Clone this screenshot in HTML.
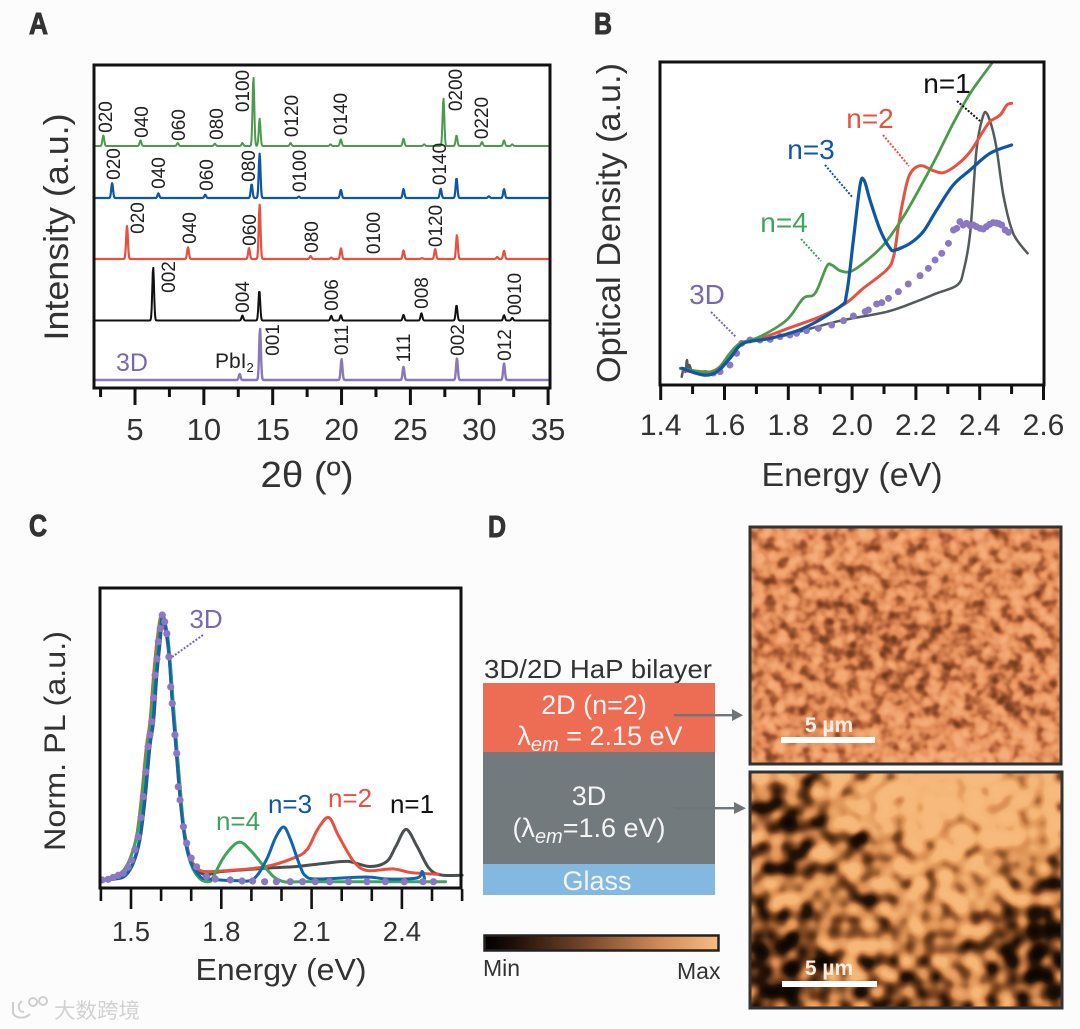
<!DOCTYPE html>
<html>
<head>
<meta charset="utf-8">
<title>Four-panel perovskite characterization figure</title>
<style>
html,body{margin:0;padding:0;background:#fdfdfd;}
svg{display:block;}
text{font-family:"Liberation Sans","Noto Sans CJK SC",sans-serif;}
</style>
</head>
<body>
<svg id="fig" xmlns="http://www.w3.org/2000/svg" width="1080" height="1029" viewBox="0 0 1080 1029">
<defs>
<filter id="noiseTop" filterUnits="userSpaceOnUse" x="751" y="528" width="309" height="235" color-interpolation-filters="sRGB">
<feTurbulence type="fractalNoise" baseFrequency="0.085" numOctaves="2" seed="7" result="n"/>
<feColorMatrix in="n" type="matrix" values="1 0 0 0 0  1 0 0 0 0  1 0 0 0 0  0 0 0 0 1" result="g"/>
<feComposite in="g" in2="SourceGraphic" operator="arithmetic" k1="0" k2="1" k3="1" k4="-0.5"/>
<feGaussianBlur stdDeviation="1"/>
<feComponentTransfer>
<feFuncR type="table" tableValues="0.38 0.40 0.50 0.70 0.88 0.94 0.96 0.96 0.96"/>
<feFuncG type="table" tableValues="0.18 0.20 0.26 0.38 0.54 0.63 0.68 0.68 0.68"/>
<feFuncB type="table" tableValues="0.08 0.10 0.14 0.22 0.34 0.42 0.48 0.48 0.48"/>
<feFuncA type="linear" slope="0" intercept="1"/>
</feComponentTransfer>
</filter>
<filter id="noiseBottom" filterUnits="userSpaceOnUse" x="751" y="773" width="310" height="234" color-interpolation-filters="sRGB">
<feTurbulence type="fractalNoise" baseFrequency="0.065" numOctaves="1" seed="11" result="n"/>
<feColorMatrix in="n" type="matrix" values="1 0 0 0 0  1 0 0 0 0  1 0 0 0 0  0 0 0 0 1" result="g"/>
<feComposite in="g" in2="SourceGraphic" operator="arithmetic" k1="0" k2="1" k3="1" k4="-0.5"/>
<feGaussianBlur stdDeviation="1.2"/>
<feComponentTransfer>
<feFuncR type="table" tableValues="0.04 0.06 0.16 0.50 0.86 0.96 0.97 0.97 0.97"/>
<feFuncG type="table" tableValues="0.02 0.03 0.08 0.28 0.56 0.71 0.73 0.73 0.73"/>
<feFuncB type="table" tableValues="0.00 0.01 0.03 0.13 0.32 0.46 0.49 0.49 0.49"/>
<feFuncA type="linear" slope="0" intercept="1"/>
</feComponentTransfer>
</filter>
<radialGradient id="lightBlob"><stop offset="0" stop-color="#fff" stop-opacity=".5"/><stop offset=".6" stop-color="#fff" stop-opacity=".3"/><stop offset="1" stop-color="#fff" stop-opacity="0"/></radialGradient>
<radialGradient id="darkBlob"><stop offset="0" stop-color="#000" stop-opacity=".5"/><stop offset=".6" stop-color="#000" stop-opacity=".3"/><stop offset="1" stop-color="#000" stop-opacity="0"/></radialGradient>
<linearGradient id="cmap" x1="0" x2="1" y1="0" y2="0"><stop offset="0" stop-color="#000"/><stop offset=".12" stop-color="#1c0f08"/><stop offset=".45" stop-color="#7c4a2c"/><stop offset=".75" stop-color="#d28a58"/><stop offset="1" stop-color="#f7bc80"/></linearGradient>
</defs>

<rect width="1080" height="1029" fill="#fcfcfc"/>

<g fill="#333" stroke="#333" stroke-width="1" font-weight="bold" font-size="31">
<text x="29" y="34" textLength="19" lengthAdjust="spacingAndGlyphs">A</text>
<text x="594" y="34" textLength="18" lengthAdjust="spacingAndGlyphs">B</text>
<text x="29" y="536" textLength="18" lengthAdjust="spacingAndGlyphs">C</text>
<text x="488" y="537" textLength="18" lengthAdjust="spacingAndGlyphs">D</text>
</g>

<!-- PANEL A -->
<g id="panelA">
<rect x="94" y="65" width="456" height="323" fill="#fff"/>
<g id="aMarks"></g>
<rect x="94" y="65" width="456" height="323" fill="none" stroke="#111" stroke-width="3"/>
<g id="aTicks"></g>
<text transform="translate(68,227) rotate(-90)" text-anchor="middle" font-size="34" fill="#333" textLength="227" lengthAdjust="spacingAndGlyphs">Intensity (a.u.)</text>
<text x="307" y="487" text-anchor="middle" font-size="36" fill="#333" textLength="93" lengthAdjust="spacingAndGlyphs">2θ (º)</text>
<g font-size="19" fill="#222" text-anchor="middle">
<text transform="translate(112,117) rotate(-90)">020</text>
<text transform="translate(148,122) rotate(-90)">040</text>
<text transform="translate(185,125) rotate(-90)">060</text>
<text transform="translate(223,124) rotate(-90)">080</text>
<text transform="translate(249,91) rotate(-90)">0100</text>
<text transform="translate(298,116) rotate(-90)">0120</text>
<text transform="translate(347,114) rotate(-90)">0140</text>
<text transform="translate(462,90) rotate(-90)">0200</text>
<text transform="translate(488,118) rotate(-90)">0220</text>
</g>
<g font-size="19" fill="#222" text-anchor="middle">
<text transform="translate(120,164) rotate(-90)">020</text>
<text transform="translate(165,173) rotate(-90)">040</text>
<text transform="translate(213,175) rotate(-90)">060</text>
<text transform="translate(255,166) rotate(-90)">080</text>
<text transform="translate(306,171) rotate(-90)">0100</text>
<text transform="translate(446,164) rotate(-90)">0140</text>
</g>
<g font-size="19" fill="#222" text-anchor="middle">
<text transform="translate(144,218) rotate(-90)">020</text>
<text transform="translate(196,228) rotate(-90)">040</text>
<text transform="translate(256,230) rotate(-90)">060</text>
<text transform="translate(318,237) rotate(-90)">080</text>
<text transform="translate(380,233) rotate(-90)">0100</text>
<text transform="translate(442,226) rotate(-90)">0120</text>
</g>
<g font-size="19" fill="#222" text-anchor="middle">
<text transform="translate(175,277) rotate(-90)">002</text>
<text transform="translate(249,297) rotate(-90)">004</text>
<text transform="translate(338,295) rotate(-90)">006</text>
<text transform="translate(428,293) rotate(-90)">008</text>
<text transform="translate(521,294) rotate(-90)">0010</text>
</g>
<g font-size="19" fill="#222" text-anchor="middle">
<text transform="translate(279,340) rotate(-90)">001</text>
<text transform="translate(348,340) rotate(-90)">011</text>
<text transform="translate(410,348) rotate(-90)">111</text>
<text transform="translate(464,340) rotate(-90)">002</text>
<text transform="translate(511,345) rotate(-90)">012</text>
</g>
<text x="215" y="368" font-size="21" fill="#222">PbI<tspan font-size="13" dy="4">2</tspan></text>
<text x="116" y="371" font-size="25" fill="#7a68ad">3D</text>
</g>

<!-- PANEL B -->
<g id="panelB">
<rect x="660" y="62" width="384" height="323" fill="#fff"/>
<g id="bMarks"></g>
<rect x="660" y="62" width="384" height="323" fill="none" stroke="#111" stroke-width="3"/>
<g id="bTicks"></g>
<text transform="translate(620,223) rotate(-90)" text-anchor="middle" font-size="33" fill="#333" textLength="320" lengthAdjust="spacingAndGlyphs">Optical Density (a.u.)</text>
<text x="852" y="486" text-anchor="middle" font-size="33" fill="#333" textLength="181" lengthAdjust="spacingAndGlyphs">Energy (eV)</text>
<g font-size="28" text-anchor="middle">
<text x="947" y="93" fill="#111">n=1</text>
<text x="870" y="128" fill="#e8503f">n=2</text>
<text x="811" y="159" fill="#0f56a5">n=3</text>
<text x="784" y="232" fill="#3fa55a">n=4</text>
<text x="707" y="304" fill="#7a68ad">3D</text>
</g>
<g fill="none" stroke-width="2" stroke-dasharray="2 1.6">
<line x1="957" y1="101" x2="980" y2="121" stroke="#111"/>
<line x1="883" y1="135" x2="909" y2="166" stroke="#e8503f"/>
<line x1="825" y1="165" x2="853" y2="198" stroke="#0f56a5"/>
<line x1="801" y1="239" x2="821" y2="261" stroke="#3fa55a"/>
<line x1="711" y1="312" x2="736" y2="337" stroke="#7a68ad"/>
</g>
</g>

<!-- PANEL C -->
<g id="panelC">
<rect x="100" y="588" width="361" height="300" fill="#fff"/>
<g id="cMarks"></g>
<rect x="100" y="588" width="361" height="300" fill="none" stroke="#111" stroke-width="3"/>
<g id="cTicks"></g>
<text transform="translate(65,741) rotate(-90)" text-anchor="middle" font-size="30" fill="#333" textLength="220" lengthAdjust="spacingAndGlyphs">Norm. PL (a.u.)</text>
<text x="281" y="980" text-anchor="middle" font-size="31" fill="#333" textLength="171" lengthAdjust="spacingAndGlyphs">Energy (eV)</text>
<g font-size="26" text-anchor="middle">
<text x="238" y="830" fill="#3fa55a">n=4</text>
<text x="290" y="813" fill="#0f56a5">n=3</text>
<text x="350" y="807" fill="#e8503f">n=2</text>
<text x="412" y="813" fill="#111">n=1</text>
<text x="206" y="628" fill="#7a68ad">3D</text>
</g>
<line x1="203" y1="635" x2="172" y2="657" stroke="#7a68ad" stroke-width="2" stroke-dasharray="2 1.6"/>
</g>

<!-- PANEL D -->
<g>
<text x="598" y="678" text-anchor="middle" font-size="26" fill="#333" textLength="228" lengthAdjust="spacingAndGlyphs">3D/2D HaP bilayer</text>
<rect x="483" y="683" width="232" height="69" fill="#ec6c54"/>
<rect x="483" y="752" width="232" height="112" fill="#737a7d"/>
<rect x="483" y="864" width="232" height="31" fill="#83b8e0"/>
<g fill="#f4f4f4" font-size="27" text-anchor="middle">
<text x="594" y="714">2D (n=2)</text>
<text x="600" y="745">λ<tspan font-style="italic" font-size="20" dy="6">em</tspan><tspan dy="-6"> = 2.15 eV</tspan></text>
<text x="589" y="805">3D</text>
<text x="589" y="837">(λ<tspan font-style="italic" font-size="20" dy="6">em</tspan><tspan dy="-6">=1.6 eV)</tspan></text>
<text x="597" y="890">Glass</text>
</g>
<g fill="#6f7578" stroke="none">
<rect x="674" y="714" width="60" height="2.4"/>
<polygon points="732,709 743,715.2 732,721"/>
<rect x="674" y="807" width="62" height="2.4"/>
<polygon points="734,802 746,808.2 734,814"/>
</g>

<g>
<g filter="url(#noiseTop)">
<rect x="751" y="528" width="309" height="235" fill="#848484"/>
<ellipse cx="880" cy="640" rx="130" ry="70" fill="url(#darkBlob)" opacity=".35"/>
<ellipse cx="1005" cy="690" rx="45" ry="35" fill="url(#darkBlob)" opacity=".35"/>
<ellipse cx="990" cy="765" rx="110" ry="45" fill="url(#lightBlob)" opacity=".45"/>
<ellipse cx="1013" cy="701" rx="9" ry="11" fill="url(#darkBlob)"/>
</g>
<rect x="750" y="527" width="311" height="237" fill="none" stroke="#333" stroke-width="3"/>
<rect x="781" y="737" width="94" height="6" fill="#fff"/>
<text x="829" y="732" text-anchor="middle" font-size="21" font-weight="bold" fill="#fbeee2">5 µm</text>
</g>

<g>
<g filter="url(#noiseBottom)">
<rect x="751" y="773" width="310" height="234" fill="#767676"/>
<ellipse cx="960" cy="800" rx="150" ry="75" fill="url(#lightBlob)"/>
<ellipse cx="950" cy="890" rx="80" ry="45" fill="url(#lightBlob)" opacity=".5"/>
<ellipse cx="780" cy="965" rx="60" ry="60" fill="url(#darkBlob)"/>
<ellipse cx="1040" cy="950" rx="60" ry="65" fill="url(#darkBlob)"/>
<ellipse cx="900" cy="995" rx="70" ry="25" fill="url(#darkBlob)" opacity=".6"/>
<ellipse cx="785" cy="835" rx="35" ry="50" fill="url(#darkBlob)" opacity=".7"/>
<ellipse cx="865" cy="842" rx="13" ry="17" fill="url(#darkBlob)"/>
</g>
<rect x="750" y="772" width="312" height="236" fill="none" stroke="#333" stroke-width="3"/>
<rect x="782" y="981" width="95" height="6" fill="#fff"/>
<text x="829" y="975" text-anchor="middle" font-size="21" font-weight="bold" fill="#fbeee2">5 µm</text>
</g>

<rect x="484.5" y="935.5" width="234" height="15" fill="url(#cmap)" stroke="#222" stroke-width="2.5"/>
<text x="483" y="976" font-size="23" fill="#333">Min</text>
<text x="677" y="979" font-size="23" fill="#333">Max</text>
</g>

<g fill="none" stroke="#cfcfcf" stroke-width="2">
<path d="M13 1002 V1012 C13 1018 24 1020 30 1014 M22 1001 C17 1005 18 1012 24 1012"/>
<circle cx="33" cy="1002" r="4"/>
<circle cx="43" cy="1001" r="4"/>
<text x="54" y="1018" font-size="21" fill="#d2d2d2" stroke="none" textLength="86" lengthAdjust="spacingAndGlyphs">大数跨境</text>
</g>
</svg>

<script>
// ---------- Panel A data: peak positions (2 theta, degrees) and intensities (a.u.) ----------
const aTickValues = [2.5,5,7.5,10,12.5,15,17.5,20,22.5,25,27.5,30,32.5,35];
const aTickLabels = ["5","10","15","20","25","30","35"];
const aPeaksN4 = [2.7,5.4,8.1,10.8,12.8,13.6,14.05,16.3,19.2,19.95,24.5,26,27.4,28.35,30.2,31.8,32.4];
const aHeightsN4 = [32,17,9,7,9,207,82,9,5,20,22,5,144,32,12,17,5];
const aPeaksN3 = [3.34,6.7,10.1,13.47,14.05,16.9,19.95,24.5,27.2,28.35,30.7,31.8];
const aHeightsN3 = [45,14,10,42,133,4,25,27,28,60,5,27];
const aPeaksN2 = [4.42,8.85,13.28,14.05,17.75,19.25,19.96,24.5,25.85,26.8,28.38,31.3,31.8];
const aHeightsN2 = [100,35,33,163,9,4,32,26,3,30,72,6,25];
const aPeaksN1 = [6.32,12.8,14.03,19.25,19.95,24.5,25.8,28.35,31.8,32.4];
const aHeightsN1 = [160,15,90,14,16,17,22,46,16,8];
const aPeaks3D = [12.6,14.08,20,24.5,28.38,31.8];
const aHeights3D = [18,155,63,40,65,50];

// ---------- Panel B data: energy (eV) and optical density (a.u.) ----------
const bTickValues = [1.4,1.5,1.6,1.7,1.8,1.9,2.0,2.1,2.2,2.3,2.4,2.5,2.6];
const bEnergyN1 = [1.466,1.472,1.478,1.482,1.486,1.49,1.50,1.53,1.56,1.586,1.62,1.65,1.70,1.795,1.95,2.11,2.2,2.265,2.33,2.35,2.37,2.39,2.41,2.425,2.45,2.475,2.505,2.55];
const bValueN1 = [25,50,40,75,45,60,40,40,40,45,85,125,135,150,190,220,250,275,300,345,455,705,805,810,725,565,455,395];
const bEnergyN2 = [1.47,1.53,1.58,1.62,1.65,1.7,1.8,1.9,1.98,2.035,2.108,2.13,2.145,2.16,2.18,2.213,2.255,2.286,2.328,2.37,2.41,2.432,2.464,2.485,2.5];
const bValueN2 = [45,35,50,95,125,135,170,205,245,290,345,385,475,555,630,658,643,637,660,700,760,790,810,840,845];
const bEnergyN3 = [1.466,1.534,1.576,1.617,1.659,1.743,1.847,1.962,1.983,2.004,2.025,2.038,2.056,2.088,2.119,2.135,2.182,2.223,2.265,2.317,2.37,2.432,2.5];
const bValueN3 = [50,30,40,80,125,140,170,235,275,435,600,613,555,465,410,405,425,460,525,600,645,695,720];
const bEnergyN4 = [1.461,1.534,1.576,1.617,1.649,1.711,1.795,1.847,1.884,1.92,1.936,1.962,1.994,2.035,2.098,2.161,2.223,2.265,2.317,2.37,2.438];
const bValueN4 = [50,40,45,95,125,145,195,260,275,355,360,343,340,365,420,505,610,685,785,875,965];
const bEnergy3D = [1.54,1.565,1.586,1.617,1.638,1.654,1.68,1.711,1.743,1.774,1.805,1.826,1.857,1.894,1.936,1.973,2.004,2.041,2.051,2.077,2.093,2.114,2.145,2.176,2.213,2.239,2.26,2.281,2.302,2.318,2.328,2.338,2.348,2.359,2.37,2.38,2.39,2.401,2.411,2.421,2.431,2.442,2.452,2.46,2.469,2.48,2.49];
const bValue3D = [35,36,40,60,95,125,135,135,137,145,150,155,163,170,180,193,207,220,225,243,247,260,280,303,328,350,375,395,425,465,470,490,480,485,478,480,475,470,468,475,482,487,486,484,480,465,458];

// ---------- Panel C data: energy (eV) and normalized PL (a.u.) ----------
const cTickValues = [1.4,1.5,1.6,1.7,1.8,1.9,2.0,2.1,2.2,2.3,2.4,2.5,2.6];
const cTickLabels = ["1.5","1.8","2.1","2.4"];
const cEnergyN1 = [1.40,1.447,1.48,1.508,1.53,1.547,1.563,1.575,1.586,1.597,1.606,1.62,1.63,1.64,1.65,1.665,1.68,1.70,1.72,1.75,1.80,1.95,2.05,2.15,2.22,2.295,2.35,2.38,2.414,2.45,2.49,2.53,2.6];
const cValueN1 = [0,3,12,50,120,240,395,469,607,706,785,720,640,520,400,240,130,55,30,15,25,35,40,50,55,40,55,100,150,100,35,15,14];
const cEnergyN2 = [1.40,1.44,1.47,1.495,1.518,1.535,1.551,1.563,1.575,1.586,1.60,1.615,1.626,1.636,1.648,1.665,1.68,1.70,1.72,1.75,1.85,1.95,2.04,2.085,2.12,2.157,2.19,2.24,2.285,2.37,2.43,2.52];
const cValueN2 = [0,3,15,59,128,247,395,469,607,706,785,735,665,540,400,220,120,60,35,25,30,40,65,90,150,185,130,55,28,33,22,17];
const cEnergyN3 = [1.40,1.445,1.478,1.506,1.528,1.545,1.561,1.573,1.584,1.595,1.605,1.619,1.628,1.637,1.648,1.665,1.68,1.70,1.73,1.76,1.85,1.907,1.95,1.98,2.007,2.03,2.06,2.08,2.12,2.28,2.35,2.45,2.467,2.475];
const cValueN3 = [0,3,12,50,120,240,395,469,607,706,785,725,645,525,410,225,115,50,10,3,-2,3,60,125,157,120,45,12,3,9,3,6,25,5];
const cEnergyN4 = [1.40,1.44,1.47,1.498,1.52,1.538,1.554,1.566,1.578,1.59,1.602,1.62,1.63,1.64,1.65,1.668,1.68,1.70,1.73,1.76,1.775,1.81,1.858,1.90,1.95,2.0,2.1,2.545];
const cValueN4 = [0,5,22,65,135,255,395,469,607,706,785,735,650,530,420,225,120,45,3,-5,12,70,112,85,32,-3,-5,-5];
const cEnergy3D = [1.404,1.424,1.441,1.458,1.474,1.49,1.502,1.513,1.524,1.533,1.541,1.549,1.557,1.563,1.569,1.575,1.58,1.586,1.591,1.597,1.604,1.612,1.619,1.626,1.632,1.637,1.646,1.652,1.657,1.663,1.674,1.685,1.70,1.718,1.751,1.78,1.83,1.869,1.904,1.944,1.983,2.029,2.07,2.112,2.16,2.223,2.284,2.345,2.408,2.47,2.505];
const cValue3D = [0,2,8,14,20,38,59,90,128,185,247,320,395,430,469,540,607,655,706,745,785,765,730,661,572,523,430,375,276,237,158,109,65,39,10,3,0,-3,-3,-5,-5,-5,-5,-5,-5,-5,-5,-5,-5,-5,-5];

// ---------- Axis functions ----------
const aX = v => 135 + (v - 5) * 13.77;
const aY = (v, base) => base - v / 3;
const bX = v => 660.7 + (v - 1.4) * 319;
const bY = v => 385 - v / 3;
const cX = v => 131 + (v - 1.5) * 301;
const cY = v => 880 - v * (265 / 785);

const NS = 'http://www.w3.org/2000/svg';

function smoothPath(xs, ys) {
  let d = 'M' + xs[0].toFixed(2) + ' ' + ys[0].toFixed(2);
  for (let i = 0; i < xs.length - 1; i++) {
    const i0 = Math.max(i - 1, 0), i3 = Math.min(i + 2, xs.length - 1);
    const c1x = xs[i] + (xs[i + 1] - xs[i0]) / 6, c1y = ys[i] + (ys[i + 1] - ys[i0]) / 6;
    const c2x = xs[i + 1] - (xs[i3] - xs[i]) / 6, c2y = ys[i + 1] - (ys[i3] - ys[i]) / 6;
    d += 'C' + c1x.toFixed(2) + ' ' + c1y.toFixed(2) + ' ' + c2x.toFixed(2) + ' ' + c2y.toFixed(2) + ' ' + xs[i + 1].toFixed(2) + ' ' + ys[i + 1].toFixed(2);
  }
  return d;
}

function addPath(parent, name, d, color, width) {
  const el = document.createElementNS(NS, 'path');
  
  
  el.setAttribute('d', d);
  el.setAttribute('fill', 'none');
  el.setAttribute('stroke', color);
  el.setAttribute('stroke-width', width);
  el.setAttribute('stroke-linejoin', 'round');
  el.setAttribute('stroke-linecap', 'round');
  parent.appendChild(el);
}

function addDots(parent, name, xs, ys, color, r) {
  xs.forEach((x, i) => {
    const el = document.createElementNS(NS, 'circle');
    
    
    el.setAttribute('cx', x.toFixed(2));
    el.setAttribute('cy', ys[i].toFixed(2));
    el.setAttribute('r', r);
    el.setAttribute('fill', color);
    parent.appendChild(el);
  });
}

function addTick(parent, x, y0, len, width) {
  const el = document.createElementNS(NS, 'line');
  
  
  el.setAttribute('x1', x);
  el.setAttribute('x2', x);
  el.setAttribute('y1', y0);
  el.setAttribute('y2', y0 + len);
  el.setAttribute('stroke', '#111');
  el.setAttribute('stroke-width', width);
  parent.appendChild(el);
}

function addTickLabel(parent, x, y, size, str) {
  const el = document.createElementNS(NS, 'text');
  
  
  el.setAttribute('x', x);
  el.setAttribute('y', y);
  el.setAttribute('font-size', size);
  el.setAttribute('text-anchor', 'middle');
  el.setAttribute('fill', '#333');
  el.textContent = str;
  parent.appendChild(el);
}

// ---------- Panel A ----------
function xrdPath(peaks, heights, base) {
  let d = '';
  for (let t = 2.05; t <= 35; t += 0.04) {
    let v = 0;
    peaks.forEach((p, i) => {
      const u = (t - p) / 0.09;
      v += heights[i] * Math.exp(-u * u);
    });
    d += (d ? 'L' : 'M') + aX(t).toFixed(2) + ' ' + aY(v, base).toFixed(2);
  }
  return d;
}
const aG = document.getElementById('aMarks');
addPath(aG, 'xrd-trace-n4', xrdPath(aPeaksN4, aHeightsN4, 146), '#4b9b4b', 2);
addPath(aG, 'xrd-trace-n3', xrdPath(aPeaksN3, aHeightsN3, 198), '#0f56a5', 2.2);
addPath(aG, 'xrd-trace-n2', xrdPath(aPeaksN2, aHeightsN2, 259), '#e8503f', 2.2);
addPath(aG, 'xrd-trace-n1', xrdPath(aPeaksN1, aHeightsN1, 320.5), '#111111', 2);
addPath(aG, 'xrd-trace-3d', xrdPath(aPeaks3D, aHeights3D, 380), '#8b78b8', 2.4);

const aT = document.getElementById('aTicks');
aTickValues.forEach((v, i) => {
  const major = i % 2 === 1;
  addTick(aT, aX(v), 389, major ? 16 : 8, 3);
});
aTickValues.filter((v, i) => i % 2 === 1).forEach((v, i) => {
  addTickLabel(aT, aX(v), 440, 31, aTickLabels[i]);
});

// ---------- Panel B ----------
const bG = document.getElementById('bMarks');
const bXs = a => a.map(bX);
const bYs = a => a.map(bY);
addPath(bG, 'absorption-line-n1', smoothPath(bXs(bEnergyN1), bYs(bValueN1)), '#555a5c', 2.5);
addDots(bG, 'absorption-point-3d', bXs(bEnergy3D), bYs(bValue3D), '#8b78c4', 3.5);
addPath(bG, 'absorption-line-n2', smoothPath(bXs(bEnergyN2), bYs(bValueN2)), '#e8503f', 3);
addPath(bG, 'absorption-line-n4', smoothPath(bXs(bEnergyN4), bYs(bValueN4)), '#4b9b4b', 2.8);
addPath(bG, 'absorption-line-n3', smoothPath(bXs(bEnergyN3), bYs(bValueN3)), '#0f56a5', 3.2);

const bT = document.getElementById('bTicks');
bTickValues.forEach((v, i) => {
  const major = i % 2 === 0;
  addTick(bT, bX(v), 386, major ? 14 : 8, 3);
  if (major) {
    addTickLabel(bT, bX(v), 435, 30, v.toFixed(1));
  }
});

// ---------- Panel C ----------
const cG = document.getElementById('cMarks');
const cXs = a => a.map(cX);
const cYs = a => a.map(cY);
addPath(cG, 'pl-line-n1', smoothPath(cXs(cEnergyN1), cYs(cValueN1)), '#4a4f52', 3);
addPath(cG, 'pl-line-n2', smoothPath(cXs(cEnergyN2), cYs(cValueN2)), '#e8503f', 3);
addPath(cG, 'pl-line-n4', smoothPath(cXs(cEnergyN4), cYs(cValueN4)), '#3fa55a', 3);
addPath(cG, 'pl-line-n3', smoothPath(cXs(cEnergyN3), cYs(cValueN3)), '#0f66ad', 3);
addDots(cG, 'pl-point-3d', cXs(cEnergy3D), cYs(cValue3D), '#8b78c4', 3.6);

const cT = document.getElementById('cTicks');
cTickValues.forEach((v, i) => {
  const major = i % 3 === 1;
  addTick(cT, cX(v), 889, major ? 20 : 12, 2.6);
});
cTickValues.filter((v, i) => i % 3 === 1).forEach((v, i) => {
  addTickLabel(cT, cX(v), 941, 27.5, cTickLabels[i]);
});
</script>
</body>
</html>
